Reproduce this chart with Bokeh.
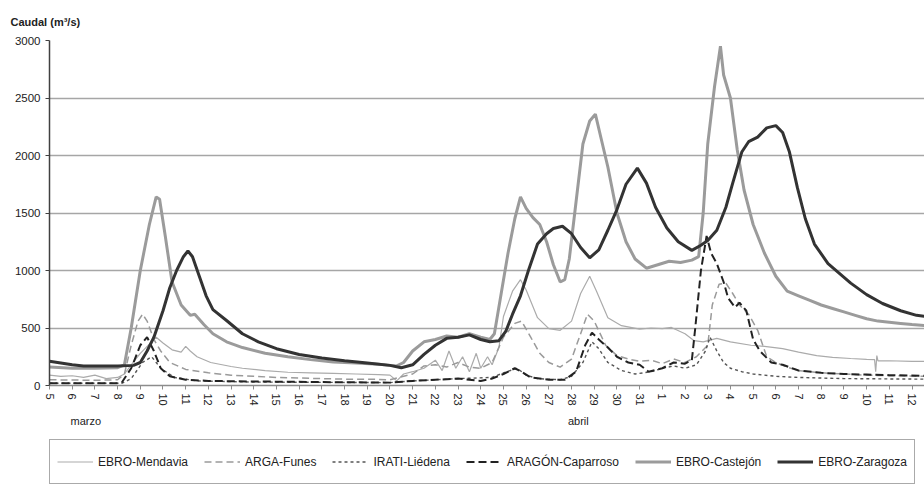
from bokeh.plotting import figure
from bokeh.models import Range1d, FixedTicker, Legend, LegendItem, LinearAxis
from bokeh.layouts import column
from bokeh.embed import file_html
from bokeh.resources import INLINE

# ---- data (x = days since 5 March, 00:00) ----
tick_labels = ["5", "6", "7", "8", "9", "10", "11", "12", "13", "14", "15", "16", "17",
               "18", "19", "20", "21", "22", "23", "24", "25", "26", "27", "28", "29",
               "30", "31", "1", "2", "3", "4", "5", "6", "7", "8", "9", "10", "11", "12"]
month_labels = ["marzo", "abril"]
month_pos = [1.6, 23.3]

mendavia_t = [0, 0.5, 1, 1.5, 2, 2.5, 3.0, 3.3, 3.6, 4.0, 4.4, 4.7, 5.0, 5.4, 5.8, 6.0, 6.2, 6.5,
              7.1, 8.0, 8.5, 9.5, 10.5, 11.5, 12.5, 13.5, 14.5, 15.0, 15.3, 15.6, 16.0, 16.5,
              17.0, 17.3, 17.6, 17.9, 18.2, 18.5, 18.8, 19.0, 19.3, 19.5, 19.8, 20.0, 20.4,
              20.75, 21.0, 21.5, 22.0, 22.5, 23.0, 23.4, 23.8, 24.1, 24.6, 25.2, 26.0, 26.5,
              27.0, 27.4, 28.0, 28.4, 28.8, 29.4, 30.0, 30.9, 31.5, 32.3, 33.0, 33.8, 34.5,
              35.3, 36.0, 36.35, 36.4, 36.45, 36.5, 37.0, 38.0, 38.6]
mendavia_q = [90, 80, 85, 70, 90, 60, 70, 100, 180, 280, 360, 420, 370, 310, 290, 340, 300, 250,
              200, 165, 150, 130, 115, 110, 105, 100, 95, 90, 40, 100, 120, 150,
              220, 130, 300, 150, 250, 120, 280, 150, 250, 180, 330, 600, 820,
              920, 830, 590, 495, 480, 560, 800, 950, 820, 590, 520, 490, 500,
              495, 505, 450, 390, 380, 410, 380, 350, 340, 320, 290, 260, 245,
              235, 228, 225, 120, 260, 215, 215, 210, 210]

arga_t = [0, 2, 3.0, 3.3, 3.6, 3.9, 4.1, 4.3, 4.6, 4.9, 5.3, 6.0, 7.0, 8.0, 9.0, 10.0, 11.0,
          12.0, 13.0, 14.0, 15.0, 16.0, 16.5, 17.0, 17.5, 18.0, 18.5, 19.0, 19.5, 20.0, 20.5,
          20.8, 21.2, 21.6, 22.0, 22.5, 23.0, 23.4, 23.7, 24.0, 24.5, 25.0, 25.5, 26.0, 26.5,
          27.0, 27.5, 28.0, 28.5, 29.0, 29.2, 29.5, 29.8, 30.1, 30.4, 30.8, 31.2, 31.6, 32.0,
          32.5, 33.0, 34.0, 35.0, 36.0, 37.0, 38.6]
arga_q = [50, 45, 50, 100, 350, 560, 620, 560, 400, 300, 200, 140, 110, 90, 80, 70, 65,
          60, 55, 55, 50, 100, 170, 180, 160, 200, 160, 150, 200, 420, 540,
          560, 420, 280, 200, 160, 230, 450, 620, 560, 350, 260, 230, 210, 220,
          190, 230, 200, 250, 350, 700, 880, 890, 800, 700, 620, 480, 250, 200,
          160, 130, 110, 100, 90, 85, 80]

irati_t = [0, 3.2, 3.6, 4.1, 4.5, 4.9, 5.5, 6.5, 9.0, 15.0, 16.0, 18.0, 19.5, 20.0, 20.6, 21.0,
           21.5, 22.5, 23.0, 23.5, 23.9, 24.2, 24.6, 25.2, 25.8, 26.5, 27.0, 27.5, 28.0, 28.5,
           28.9, 29.1, 29.4, 29.7, 30.0, 30.5, 31.0, 32.0, 33.0, 35.0, 38.6]
irati_q = [20, 20, 60, 200, 250, 150, 70, 40, 30, 25, 40, 60, 70, 110, 150, 90,
           60, 50, 80, 200, 380, 320, 200, 130, 100, 120, 150, 170, 150, 180,
           300, 420, 300, 200, 150, 120, 100, 80, 70, 60, 55]

aragon_t = [0, 3.0, 3.2, 3.6, 4.0, 4.3, 4.6, 4.9, 5.3, 6.0, 7.0, 9.0, 12.0, 15.0, 16.0, 17.0,
            18.0, 19.0, 19.5, 20.0, 20.5, 20.8, 21.2, 22.0, 22.7, 23.2, 23.6, 23.9, 24.2, 24.6,
            25.0, 25.5, 26.0, 26.4, 27.0, 27.5, 28.0, 28.3, 28.45, 28.7, 28.95, 29.15, 29.4,
            29.7, 29.9, 30.2, 30.4, 30.7, 31.0, 31.3, 31.8, 32.3, 33.0, 34.0, 35.0, 36.0, 37.0,
            38.6]
aragon_q = [20, 20, 30, 150, 350, 420, 300, 150, 80, 50, 40, 35, 30, 25, 40, 50,
            60, 40, 60, 100, 150, 120, 70, 50, 50, 120, 350, 460, 400, 330,
            250, 200, 180, 120, 150, 200, 190, 220, 500, 1000, 1300, 1150, 1060,
            900, 760, 680, 720, 650, 400, 300, 200, 180, 130, 110, 100, 95, 90,
            85]

castejon_t = [0, 1, 2, 3, 3.3, 3.6, 4.0, 4.4, 4.7, 4.85, 5.1, 5.4, 5.8, 6.2, 6.4, 6.8, 7.2,
              7.8, 8.5, 9.5, 10.5, 11.5, 12.5, 13.5, 14.5, 15.0, 15.3, 15.6, 16.0, 16.5, 17.0,
              17.5, 18.0, 18.5, 19.0, 19.4, 19.6, 19.9, 20.2, 20.5, 20.75, 21.0, 21.3, 21.6,
              21.9, 22.2, 22.5, 22.7, 22.9, 23.2, 23.5, 23.8, 24.05, 24.3, 24.6, 25.0, 25.4,
              25.8, 26.3, 26.8, 27.3, 27.8, 28.3, 28.6, 28.8, 29.0, 29.3, 29.56, 29.7, 30.0,
              30.3, 30.6, 31.0, 31.5, 32.0, 32.5, 33.0, 33.5, 34.0, 34.5, 35.0, 35.5, 36.0,
              36.5, 37.0, 37.5, 38.0, 38.6]
castejon_q = [160, 150, 150, 155, 180, 500, 1000, 1400, 1640, 1620, 1300, 900, 700, 610, 620, 530, 450,
              380, 330, 280, 250, 225, 205, 195, 185, 175, 170, 200, 300, 380, 400,
              430, 420, 450, 420, 400, 450, 800, 1150, 1450, 1640, 1540, 1460, 1400,
              1250, 1050, 900, 920, 1100, 1600, 2100, 2300, 2360, 2150, 1900, 1500, 1250,
              1100, 1020, 1050, 1080, 1070, 1090, 1120, 1500, 2100, 2600, 2950, 2700, 2500,
              2050, 1700, 1400, 1150, 950, 820, 780, 740, 700, 670, 640, 610, 580,
              560, 550, 540, 530, 520]

zaragoza_t = [0, 0.5, 1, 1.5, 2, 3, 3.7, 4.0, 4.3, 4.6, 5.0, 5.3, 5.6, 5.9, 6.1, 6.3, 6.6, 6.9,
              7.2, 7.8, 8.5, 9.2, 10.0, 11.0, 12.0, 13.0, 14.0, 15.0, 15.5, 16.0, 16.5, 17.0,
              17.5, 18.0, 18.5, 19.0, 19.4, 19.8, 20.1, 20.4, 20.75, 21.1, 21.5, 21.9, 22.2,
              22.6, 23.0, 23.4, 23.8, 24.2, 24.6, 25.0, 25.4, 25.9, 26.3, 26.7, 27.2, 27.7,
              28.3, 28.7, 29.0, 29.4, 29.8, 30.1, 30.5, 30.8, 31.2, 31.6, 32.0, 32.3, 32.6,
              32.95, 33.3, 33.7, 34.3, 35.3, 36.0, 36.7, 37.5, 38.2, 38.6]
zaragoza_q = [210, 195, 180, 170, 170, 170, 175, 200, 300, 420, 650, 850, 1000, 1120, 1170, 1120, 950, 780,
              660, 565, 450, 380, 320, 270, 240, 215, 195, 175, 155, 180, 270, 350,
              410, 420, 440, 400, 380, 390, 470, 620, 780, 1000, 1230, 1320, 1365,
              1385, 1320, 1200, 1110, 1180, 1350, 1530, 1750, 1890, 1760, 1550, 1370, 1250,
              1175, 1220, 1260, 1350, 1550, 1760, 2030, 2120, 2160, 2240, 2260, 2200, 2030,
              1720, 1450, 1230, 1060, 890, 790, 713, 650, 610, 600]

series_names = ["EBRO-Mendavia", "ARGA-Funes", "IRATI-Liédena", "ARAGÓN-Caparroso",
                "EBRO-Castejón", "EBRO-Zaragoza"]
series_styles = [dict(line_color="#ababab", line_width=1.2),
                 dict(line_color="#9a9a9a", line_width=1.5, line_dash="7 4"),
                 dict(line_color="#555555", line_width=1.4, line_dash="3 3"),
                 dict(line_color="#222222", line_width=2, line_dash="8 4"),
                 dict(line_color="#9b9b9b", line_width=3),
                 dict(line_color="#333333", line_width=3)]

FONT = "Liberation Sans"
TXT = "#222222"

p = figure(width=924, height=436, output_backend="svg", toolbar_location=None,
           x_range=Range1d(0, 38.55), y_range=Range1d(0, 3000),
           min_border_left=49, min_border_right=0, min_border_top=40, min_border_bottom=51,
           title="Caudal (m³/s)")
p.outline_line_color = None
p.background_fill_color = "white"
p.border_fill_color = "white"

p.title.align = "left"
p.title.offset = -39
p.title.text_font = FONT
p.title.text_font_size = "11px"
p.title.text_font_style = "bold"
p.title.text_color = TXT
p.title.standoff = 25

# grid
p.xgrid.grid_line_color = None
p.ygrid.grid_line_color = "#a6a6a6"
p.ygrid.grid_line_width = 1.5
p.ygrid.ticker = FixedTicker(ticks=[0, 500, 1000, 1500, 2000, 2500, 3000])

# axes
p.yaxis.ticker = FixedTicker(ticks=[0, 500, 1000, 1500, 2000, 2500, 3000])
p.yaxis.axis_line_color = "#404040"
p.yaxis.axis_line_width = 1.5
p.yaxis.major_tick_line_color = "#404040"
p.yaxis.major_tick_out = 4
p.yaxis.major_tick_in = 0
p.yaxis.minor_tick_line_color = None
p.yaxis.major_label_text_font = FONT
p.yaxis.major_label_text_font_size = "11.5px"
p.yaxis.major_label_text_color = TXT
p.yaxis.major_label_standoff = 5

p.xaxis.ticker = FixedTicker(ticks=list(range(len(tick_labels))))
p.xaxis.major_label_overrides = {i: lab for i, lab in enumerate(tick_labels)}
p.xaxis.major_label_orientation = "vertical"
p.xaxis.axis_line_color = "#8c8c8c"
p.xaxis.axis_line_width = 1.5
p.xaxis.major_tick_line_color = "#8c8c8c"
p.xaxis.major_tick_out = 4
p.xaxis.major_tick_in = 0
p.xaxis.minor_tick_line_color = None
p.xaxis.major_label_text_font = FONT
p.xaxis.major_label_text_font_size = "11px"
p.xaxis.major_label_text_color = TXT
p.xaxis.major_label_standoff = 4

# month axis
maxis = LinearAxis(ticker=FixedTicker(ticks=month_pos),
                   major_label_overrides={pos: m for pos, m in zip(month_pos, month_labels)},
                   axis_line_color=None, major_tick_line_color=None, minor_tick_line_color=None,
                   major_label_standoff=0, major_label_text_font=FONT,
                   major_label_text_font_size="11px", major_label_text_color=TXT)
p.add_layout(maxis, "below")

# series
data = [(mendavia_t, mendavia_q), (arga_t, arga_q), (irati_t, irati_q),
        (aragon_t, aragon_q), (castejon_t, castejon_q), (zaragoza_t, zaragoza_q)]
for (t, q), st in zip(data, series_styles):
    p.line(t, q, **st)

# legend strip below the chart (series drawn off-range, only the key shows)
lf = figure(width=924, height=49, output_backend="svg", toolbar_location=None,
            x_range=Range1d(0, 1), y_range=Range1d(-2, -1),
            x_axis_location=None, y_axis_location=None,
            min_border_left=0, min_border_right=0, min_border_top=0, min_border_bottom=0)
lf.grid.visible = False
lf.outline_line_color = None
lf.border_fill_color = "white"
lf.background_fill_color = "white"
leg_renderers = [lf.line(t, q, **st) for (t, q), st in zip(data, series_styles)]
legend = Legend(items=[LegendItem(label=n, renderers=[r]) for n, r in zip(series_names, leg_renderers)],
                orientation="horizontal", location=(0, 1),
                border_line_color="#555555", border_line_width=1.5,
                background_fill_color="white", background_fill_alpha=1.0,
                label_text_font=FONT, label_text_font_size="12px", label_text_color=TXT,
                glyph_width=36, glyph_height=29, label_standoff=5, spacing=16,
                padding=7, margin=0)
lf.add_layout(legend)

open("out.html", "w").write(file_html(column(p, lf, spacing=0), INLINE))
